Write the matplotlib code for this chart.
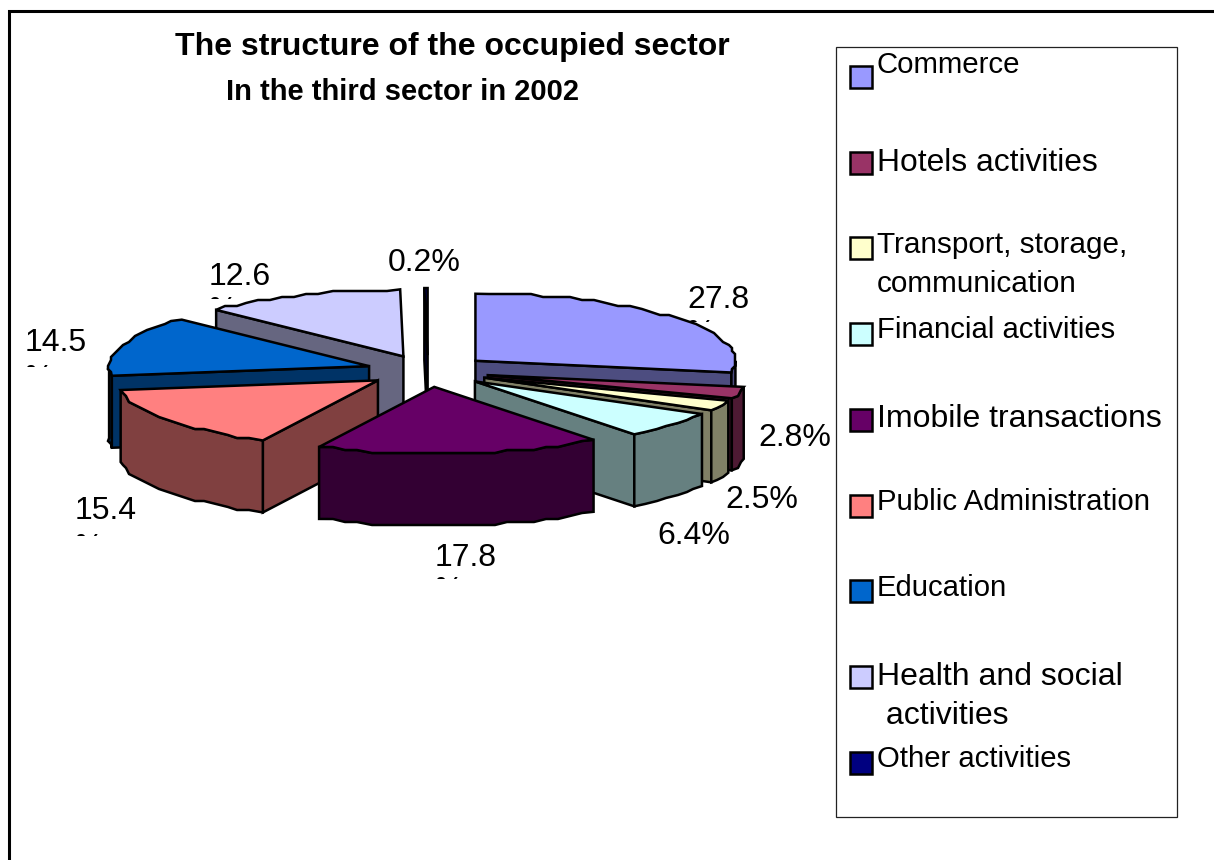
import numpy as np
import matplotlib
matplotlib.use("Agg")
import matplotlib.pyplot as plt
from matplotlib.patches import Polygon, Rectangle
from matplotlib.transforms import Bbox

plt.rcParams['font.family'] = ['Liberation Sans', 'DejaVu Sans']

categories = ["Commerce", "Hotels activities", "Transport, storage,\ncommunication",
              "Financial activities", "Imobile transactions", "Public Administration",
              "Education", "Health and social\n activities", "Other activities"]
shares = [27.8, 2.8, 2.5, 6.4, 17.8, 15.4, 14.5, 12.6, 0.2]
top_colors = ["#9999FF", "#993366", "#FFFFCC", "#CCFFFF", "#660066",
              "#FF8080", "#0066CC", "#CCCCFF", "#000080"]
side_colors = ["#4D4D80", "#4D1A33", "#808066", "#668080", "#330033",
               "#804040", "#003366", "#666680", "#000040"]

# pie geometry, in pixels of the reference
CX, CY = 428, 371
RX, RY = 260, 67
DEPTH = 72
EXPLODE = 0.238
LW = 1.8

# back to front
draw_order = [8, 7, 0, 1, 2, 6, 5, 3, 4]

# label position (left, baseline), and where the wrapped % gets cut off
label_pos = [(687, 308), (758, 446), (725, 508), (657, 544), (435, 566),
             (75, 519), (25, 351), (209, 285), (388, 271)]
label_wrapped = [True, False, False, False, True, True, True, True, False]
label_clip_y = [322, 0, 0, 0, 579, 536, 367, 299, 0]

legend_rows = [66 + 85.7 * i for i in range(9)]
legend_sizes = [21.2, 22.9, 21.4, 21.1, 23, 21.2, 21.1, 23, 21.1]
legend_baselines = [73, 171, 253, 338, 427, 510, 596, 685, 767]
legend_line_gap = 39


def rim_points(a0, a1, ox, oy):
    """outer edge of a slice, with the stair steps of the original low-res drawing"""
    n = max(2, int((a1 - a0) / 3) + 1)
    t = np.radians(np.linspace(a0, a1, n))
    x = ox + RX * np.sin(t)
    y = oy - RY * np.cos(t)
    if n > 3:
        x[1:-1] = np.round(x[1:-1] / 3) * 3
        y[1:-1] = np.round(y[1:-1] / 3) * 3
    return np.column_stack([x, y])


def add_poly(ax, pts, color, z):
    ax.add_patch(Polygon(pts, closed=True, facecolor=color, edgecolor="black",
                         linewidth=LW, joinstyle="miter", zorder=z))


def draw_slice(ax, a0, a1, top, side, z):
    mid = np.radians((a0 + a1) / 2)
    ox = CX + EXPLODE * RX * np.sin(mid)
    oy = CY - EXPLODE * RY * np.cos(mid)
    rim = rim_points(a0, a1, ox, oy)
    apex = np.array([ox, oy])
    down = np.array([0, DEPTH])

    # radial walls
    if np.sin(np.radians(a0)) < 0:
        add_poly(ax, [apex, rim[0], rim[0] + down, apex + down], side, z)
    if np.sin(np.radians(a1)) > 0:
        add_poly(ax, [apex, rim[-1], rim[-1] + down, apex + down], side, z)

    # front rim only
    lo, hi = max(a0, 90), min(a1, 270)
    if lo < hi:
        t = np.linspace(a0, a1, len(rim))
        keep = rim[(t >= lo) & (t <= hi)]
        if lo == 90 and a0 < 90:
            keep = np.vstack([[ox + RX, oy], keep])
        if hi == 270 and a1 > 270:
            keep = np.vstack([keep, [ox - RX, oy]])
        add_poly(ax, np.vstack([keep, (keep + down)[::-1]]), side, z)

    add_poly(ax, np.vstack([apex, rim]), top, z + 0.5)


fig = plt.figure(figsize=(12.14, 8.6), dpi=100)
ax = fig.add_axes([0, 0, 1, 1])
ax.set_xlim(0, 1214)
ax.set_ylim(860, 0)
ax.axis("off")

# outer frame, cut by the right and bottom edges
ax.plot([9, 9, 1214], [860, 11, 11], color="black", lw=2.2, solid_joinstyle="miter")

edges = np.concatenate([[0], np.cumsum(shares)]) / sum(shares) * 360
for z, i in enumerate(draw_order):
    draw_slice(ax, edges[i], edges[i + 1], top_colors[i], side_colors[i], 2 + z)

ax.text(452, 55, "The structure of the occupied sector", fontsize=23, fontweight="bold",
        ha="center", va="baseline")
ax.text(403, 100, "In the third sector in 2002", fontsize=21, fontweight="bold",
        ha="center", va="baseline")

for i, v in enumerate(shares):
    x, y = label_pos[i]
    if label_wrapped[i]:
        ax.text(x, y, f"{v}", fontsize=23, va="baseline", zorder=30)
        pct = ax.text(x, label_clip_y[i] + 20, "%", fontsize=23, va="baseline", zorder=30,
                      clip_on=True)
        pct.set_clip_box(Bbox([[0, 860 - label_clip_y[i]], [1214, 860]]))
    else:
        ax.text(x, y, f"{v}%", fontsize=23, va="baseline", zorder=30)

# legend
ax.add_patch(Rectangle((836, 47), 341, 770, facecolor="white", edgecolor="#222222",
                       linewidth=0.9, zorder=1))
for i, name in enumerate(categories):
    ax.add_patch(Rectangle((849.5, legend_rows[i]), 22, 22, facecolor=top_colors[i],
                           edgecolor="black", linewidth=LW, zorder=31))
    for k, line in enumerate(name.split("\n")):
        ax.text(877, legend_baselines[i] + k * legend_line_gap, line,
                fontsize=legend_sizes[i], va="baseline", zorder=31)

fig.savefig("out.png", dpi=100)
